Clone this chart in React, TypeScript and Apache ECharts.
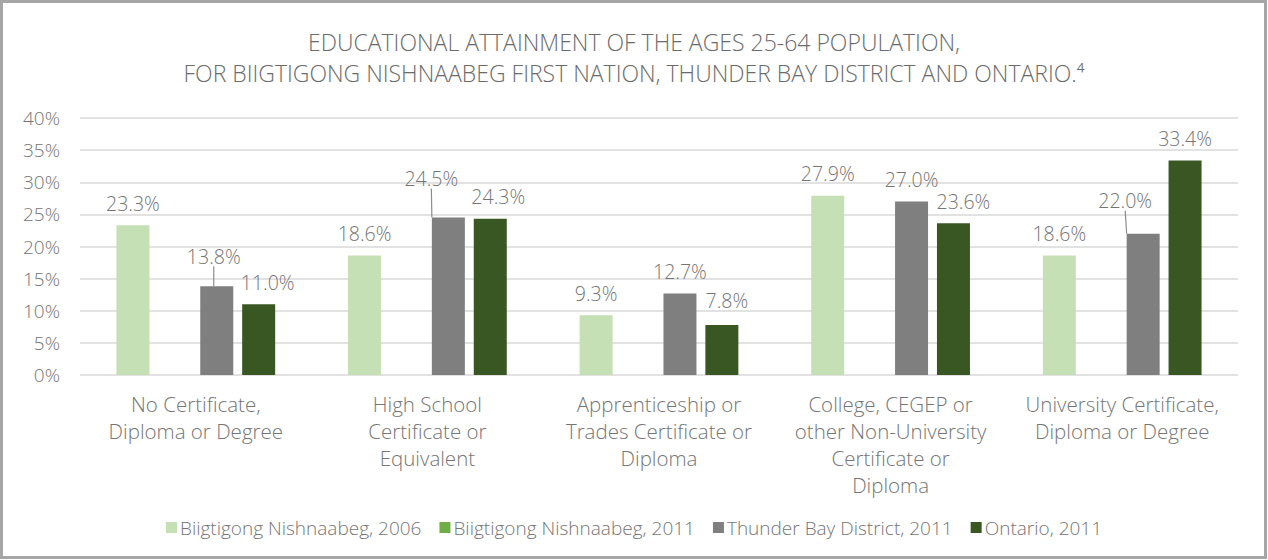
import React, { useEffect, useRef } from "react";
import * as echarts from "echarts";

const categories = [
  "No Certificate,\nDiploma or Degree",
  "High School\nCertificate or\nEquivalent",
  "Apprenticeship or\nTrades Certificate or\nDiploma",
  "College, CEGEP or\nother Non-University\nCertificate or\nDiploma",
  "University Certificate,\nDiploma or Degree",
];
const seriesNames = [
  "Biigtigong Nishnaabeg, 2006",
  "Biigtigong Nishnaabeg, 2011",
  "Thunder Bay District, 2011",
  "Ontario, 2011",
];
const biigtigong2006 = [23.3, 18.6, 9.3, 27.9, 18.6];
const biigtigong2011: (number | null)[] = [null, null, null, null, null];
const thunderBay2011 = [13.8, 24.5, 12.7, 27.0, 22.0];
const ontario2011 = [11.0, 24.3, 7.8, 23.6, 33.4];
const yTicks = [0, 5, 10, 15, 20, 25, 30, 35, 40];

const colors = ["#c5e0b4", "#70ad47", "#7f7f7f", "#385723"];
// label nudges [dx, dy] per series/category, and which get leader lines
const labelNudges: Record<number, [number, number][]> = {
  2: [[-3, -8], [-17, -17], [0, 0], [0, 0], [-18, -11]],
  3: [[9, 0], [8, 0], [5, -2], [10, 0], [0, 0]],
};
const leaderLines: Record<number, number[]> = { 2: [0, 1, 4] };

const FONT = "Open Sans";
const TEXT = "#757575";

export default function App() {
  const ref = useRef<HTMLDivElement>(null);
  useEffect(() => {
    const chart = echarts.init(ref.current!, null, { renderer: "svg" });
    const all = [biigtigong2006, biigtigong2011, thunderBay2011, ontario2011];
    const series = all.map((vals, si) => ({
      name: seriesNames[si],
      type: "bar",
      barWidth: 33,
      barGap: "27%",
      itemStyle: { color: colors[si] },
      data: vals.map((v, di) =>
        v == null
          ? null
          : {
              value: v,
              labelLine: {
                show: (leaderLines[si] || []).includes(di),
                lineStyle: { color: "#8c8c8c", width: 1.2 },
              },
            }
      ),
      label: {
        show: true,
        position: "top",
        distance: 12,
        color: TEXT,
        fontFamily: FONT,
        fontWeight: 300,
        fontSize: 19.5,
        formatter: (p: any) => Number(p.value).toFixed(1) + "%",
      },
      labelLayout: (p: any) => {
        const n = labelNudges[si];
        if (!n) return {};
        const [dx, dy] = n[p.dataIndex];
        return { dx, dy };
      },
    }));
    chart.setOption({
      animation: false,
      textStyle: { fontFamily: FONT },
      title: {
        text:
          "EDUCATIONAL ATTAINMENT OF THE AGES 25-64 POPULATION,\nFOR BIIGTIGONG NISHNAABEG FIRST NATION, THUNDER BAY DISTRICT AND ONTARIO.⁴",
        left: "center",
        top: 21,
        textStyle: {
          fontFamily: FONT,
          fontWeight: 300,
          fontSize: 23,
          lineHeight: 31,
          color: "#6b6b6b",
        },
      },
      graphic: [
        {
          type: "rect",
          shape: { x: 1.5, y: 1.5, width: 1264, height: 556 },
          style: { fill: "none", stroke: "#a6a6a6", lineWidth: 3 },
          silent: true,
        },
      ],
      legend: {
        bottom: 18,
        left: "center",
        icon: "rect",
        itemWidth: 11,
        itemHeight: 11,
        itemGap: 18,
        textStyle: { color: TEXT, fontFamily: FONT, fontWeight: 300, fontSize: 19, padding: [0, 0, 0, -2] },
        data: seriesNames,
      },
      grid: { left: 80, right: 30, top: 118, bottom: 185 },
      xAxis: {
        type: "category",
        data: categories,
        axisLine: { show: false },
        axisTick: { show: false },
        axisLabel: {
          color: TEXT,
          fontFamily: FONT,
          fontWeight: 300,
          fontSize: 20.5,
          lineHeight: 27,
          margin: 15,
          interval: 0,
        },
      },
      yAxis: {
        type: "value",
        min: yTicks[0],
        max: yTicks[yTicks.length - 1],
        interval: 5,
        axisLine: { show: false },
        axisTick: { show: false },
        splitLine: { lineStyle: { color: "#d9d9d9", width: 1.5 } },
        axisLabel: {
          color: TEXT,
          fontFamily: FONT,
          fontWeight: 300,
          fontSize: 19,
          margin: 20,
          formatter: (v: number) => v + "%",
        },
      },
      series,
    });
    return () => chart.dispose();
  }, []);
  return (
    <div
      ref={ref}
      style={{ position: "fixed", left: 0, top: 0, width: 1268, height: 560, background: "#fff" }}
    />
  );
}
